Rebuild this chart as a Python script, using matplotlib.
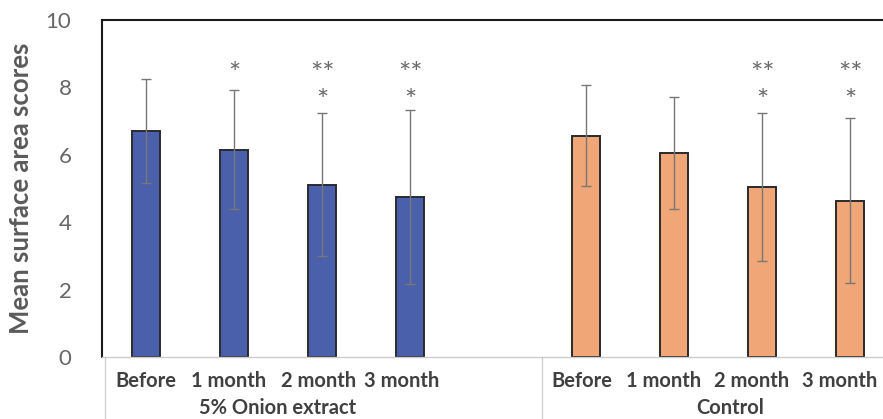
import numpy as np
import matplotlib
matplotlib.use('Agg')
import matplotlib.pyplot as plt
import matplotlib.transforms as mtransforms
from matplotlib.lines import Line2D

plt.rcParams['font.family'] = ['Lato', 'DejaVu Sans']

# mean scores and SD per time point
times = ['Before', '1 month', '2 month', '3 month']
groups = ['5% Onion extract', 'Control']
onion_mean = [6.70, 6.15, 5.11, 4.76]
onion_sd = [1.55, 1.77, 2.12, 2.58]
control_mean = [6.57, 6.05, 5.04, 4.64]
control_sd = [1.50, 1.66, 2.20, 2.45]

# significance marks (top row, lower row)
onion_sig = [('', ''), ('*', ''), ('**', '*'), ('**', '*')]
control_sig = [('', ''), ('', ''), ('**', '*'), ('**', '*')]

x_onion = np.arange(4)
x_control = np.arange(4) + 5

fig = plt.figure(figsize=(8.83, 4.19), dpi=100)
ax = fig.add_axes([102/883, 62/419, 781/883, 337/419])

err_kw = dict(ecolor='#777777', elinewidth=1.0, capsize=3.5, capthick=1.0)
ax.bar(x_onion, onion_mean, width=0.32, color='#4b60aa', edgecolor='#2a2a35',
       linewidth=1.4, yerr=onion_sd, error_kw=err_kw, zorder=2)
ax.bar(x_control, control_mean, width=0.32, color='#f0a676', edgecolor='#2a2a2a',
       linewidth=1.4, yerr=control_sd, error_kw=err_kw, zorder=2)

for xs, sig in ((x_onion, onion_sig), (x_control, control_sig)):
    for x, (top, low) in zip(xs, sig):
        if top:
            ax.text(x, 8.36, top, ha='center', va='center', fontsize=21, color='#6a6a6a')
        if low:
            ax.text(x, 7.58, low, ha='center', va='center', fontsize=21, color='#6a6a6a')

ax.set_ylim(0, 10)
ax.set_xlim(-0.5, 8.375)
ax.set_yticks([0, 2, 4, 6, 8, 10])
ax.tick_params(axis='y', length=0, pad=22, labelsize=16, labelcolor='#666666')

ax.set_xticks(list(x_onion) + list(x_control))
ax.set_xticklabels(times + times, fontsize=14.5, fontweight='bold', color='#404040')
ax.tick_params(axis='x', length=0, pad=10)

# small horizontal nudges of the category labels (pixels)
nudge = [0, -5, -3, -8, -4, -10, -10, -10]
for lab, dx in zip(ax.get_xticklabels(), nudge):
    lab.set_transform(lab.get_transform() +
                      mtransforms.ScaledTranslation(dx / 100, 0, fig.dpi_scale_trans))

ax.set_ylabel('Mean surface area scores', fontsize=18.5, fontweight='bold', color='#5a5a5a')
ax.yaxis.set_label_coords(-0.088, 0.5)

ax.spines['right'].set_visible(False)
ax.spines['top'].set_color('#1a1a1a')
ax.spines['top'].set_linewidth(1.5)
ax.spines['left'].set_color('#1a1a1a')
ax.spines['left'].set_linewidth(1.5)
ax.spines['bottom'].set_color('#cccccc')
ax.spines['bottom'].set_linewidth(1.0)

# group labels and category dividers
ax.text(1.5, -0.152, groups[0], transform=ax.get_xaxis_transform(), ha='center',
        va='center', fontsize=14.5, fontweight='bold', color='#404040')
ax.text(6.64, -0.152, groups[1], transform=ax.get_xaxis_transform(), ha='center',
        va='center', fontsize=14.5, fontweight='bold', color='#404040')
for xd in (-0.47, 4.5):
    ax.add_line(Line2D([xd, xd], [0, -0.2], transform=ax.get_xaxis_transform(),
                       color='#d0d0d0', lw=1.0, clip_on=False))

fig.savefig('out.png', dpi=100)
